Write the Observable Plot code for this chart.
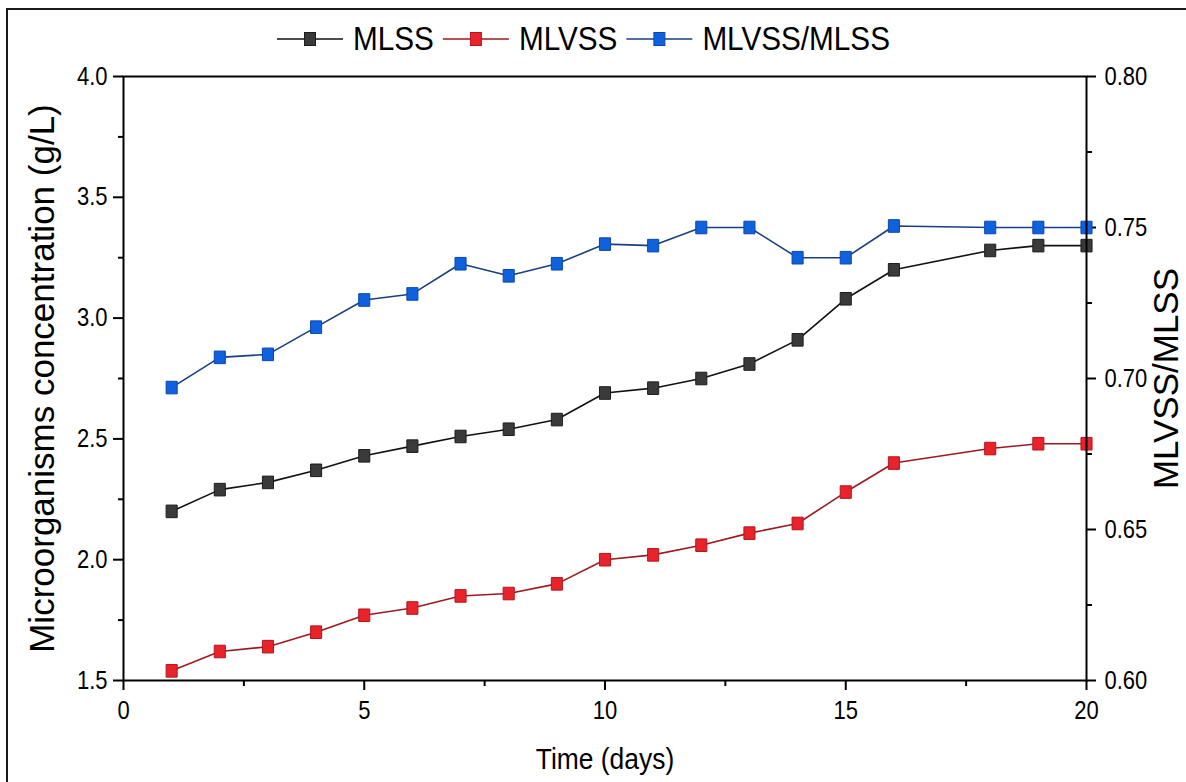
<!DOCTYPE html>
<html><head><meta charset="utf-8">
<script src="https://cdn.jsdelivr.net/npm/d3@7"></script>
<script src="https://cdn.jsdelivr.net/npm/@observablehq/plot@0.6"></script>
<style>
html,body{margin:0;padding:0;background:#fff;}
#wrap{position:relative;width:1186px;height:782px;overflow:hidden;font-family:'Liberation Sans',Arial,sans-serif;background:#fff;}
#wrap > svg{position:absolute;left:0;top:0;}
#border{position:absolute;left:6px;top:8px;width:1300px;height:900px;border-left:2px solid #1a1a1a;border-top:2px solid #1a1a1a;pointer-events:none;}
</style></head><body>
<div id="wrap"></div>
<script>
// ---- data ----
const days  = [1, 2, 3, 4, 5, 6, 7, 8, 9, 10, 11, 12, 13, 14, 15, 16, 18, 19, 20];
const mlss  = [2.20, 2.29, 2.32, 2.37, 2.43, 2.47, 2.51, 2.54, 2.58, 2.69, 2.71, 2.75, 2.81, 2.91, 3.08, 3.20, 3.28, 3.30, 3.30];
const mlvss = [1.54, 1.62, 1.64, 1.70, 1.77, 1.80, 1.85, 1.86, 1.90, 2.00, 2.02, 2.06, 2.11, 2.15, 2.28, 2.40, 2.46, 2.48, 2.48];
const ratio = [0.697, 0.707, 0.708, 0.717, 0.726, 0.728, 0.738, 0.734, 0.738, 0.7445, 0.744, 0.750, 0.750, 0.740, 0.740, 0.7505, 0.750, 0.750, 0.750];
const seriesNames = ["MLSS", "MLVSS", "MLVSS/MLSS"];
const xTicks = [0, 5, 10, 15, 20];
const xMinor = [2.5, 7.5, 12.5, 17.5];
const leftTicks = [1.5, 2.0, 2.5, 3.0, 3.5, 4.0];
const leftMinor = [1.75, 2.25, 2.75, 3.25, 3.75];
const rightTicks = [0.60, 0.65, 0.70, 0.75, 0.80];
const rightMinor = [0.625, 0.675, 0.725, 0.775];
const xTitle = "Time (days)";
const yLeftTitle = "Microorganisms concentration (g/L)";
const yRightTitle = "MLVSS/MLSS";

// ---- styles ----
const markerFill   = ["#3a3a3a", "#e8232b", "#0f61dd"];
const markerStroke = ["#1c1c1c", "#b8141b", "#0a47ad"];
const lineColor    = ["#111111", "#9c1a1f", "#1a3f80"];
const FONT = "'Liberation Sans', Arial, sans-serif";
const SQUEEZE = 0.88;

const leftDomain = [1.5, 4.0], rightDomain = [0.60, 0.80];
const toLeft = r => leftDomain[0] + (r - rightDomain[0]) * (leftDomain[1] - leftDomain[0]) / (rightDomain[1] - rightDomain[0]);
const fromLeft = v => rightDomain[0] + (v - leftDomain[0]) * (rightDomain[1] - rightDomain[0]) / (leftDomain[1] - leftDomain[0]);

const series = [mlss, mlvss, ratio.map(toLeft)];
const tables = series.map(vals => days.map((d, i) => ({day: d, v: vals[i]})));

const rectSymbol = {
  draw(context, size) {
    const h = Math.sqrt(size), w = h * 0.88;
    context.rect(-w / 2, -h / 2, w, h);
  }
};

const seriesMarks = [2, 0, 1].flatMap(s => [
  Plot.line(tables[s], {x: "day", y: "v", stroke: lineColor[s], strokeWidth: 1.6}),
  Plot.dot(tables[s], {x: "day", y: "v", symbol: rectSymbol, r: 7.1, fill: markerFill[s], stroke: markerStroke[s], strokeWidth: 1})
]);

const chart = Plot.plot({
  width: 1186, height: 782,
  marginLeft: 123, marginRight: 100, marginTop: 76, marginBottom: 102,
  x: {domain: [0, 20]},
  y: {domain: leftDomain},
  style: {fontFamily: FONT, fontSize: "25px", color: "#000", background: "transparent", overflow: "visible"},
  marks: [
    Plot.axisX(xTicks, {tickSize: 10, tickPadding: 11, tickFormat: d3.format("d"), label: null, strokeWidth: 2, fontSize: 25}),
    Plot.axisX(xMinor, {tickSize: 6, tickFormat: () => "", label: null, strokeWidth: 2}),
    Plot.axisY(leftTicks, {anchor: "left", tickSize: 10, tickPadding: 6, tickFormat: d3.format(".1f"), label: null, strokeWidth: 2, fontSize: 25}),
    Plot.axisY(leftMinor, {anchor: "left", tickSize: 5, tickFormat: () => "", label: null, strokeWidth: 2}),
    Plot.axisY(rightTicks.map(toLeft), {anchor: "right", tickSize: 9, tickPadding: 9, tickFormat: v => fromLeft(v).toFixed(2), label: null, strokeWidth: 2, fontSize: 25}),
    Plot.axisY(rightMinor.map(toLeft), {anchor: "right", tickSize: 5, tickFormat: () => "", label: null, strokeWidth: 2}),
    ...seriesMarks,
    Plot.frame({stroke: "#000", strokeWidth: 2}),
    Plot.text([xTitle], {text: d => d, frameAnchor: "bottom", lineAnchor: "top", textAnchor: "middle", dy: 67, fontSize: 30, fill: "#000"}),
    Plot.text([yLeftTitle], {text: d => d, frameAnchor: "left", rotate: -90, lineAnchor: "middle", textAnchor: "middle", dx: -81, fontSize: 35, fill: "#000"}),
    Plot.text([yRightTitle], {text: d => d, frameAnchor: "right", rotate: -90, lineAnchor: "middle", textAnchor: "middle", dx: 80, fontSize: 35, fill: "#000"})
  ]
});

const wrap = document.getElementById("wrap");
wrap.append(chart);

// ---- legend (drawn from the series arrays) ----
const leg = d3.select(wrap).append("svg").attr("width", 1186).attr("height", 76)
  .style("font-family", FONT);
let xPos = 277;
seriesNames.forEach((name, i) => {
  const g = leg.append("g").attr("transform", `translate(${xPos},39)`);
  g.append("line").attr("x1", 0).attr("x2", 66).attr("y1", 0).attr("y2", 0)
    .attr("stroke", lineColor[i]).attr("stroke-width", 1.6);
  g.append("rect").attr("x", 33 - 5.5).attr("y", -6.5).attr("width", 11).attr("height", 13)
    .attr("fill", markerFill[i]).attr("stroke", markerStroke[i]).attr("stroke-width", 1);
  const t = g.append("text").attr("x", 76).attr("y", 11).attr("fill", "#000")
    .style("font-size", "33px").text(name);
  const L = t.node().getComputedTextLength() * 0.9;
  t.attr("textLength", L).attr("lengthAdjust", "spacingAndGlyphs");
  xPos += 76 + L + 9;
});

// narrow the horizontal texts to match the reference's condensed lettering
chart.querySelectorAll("text").forEach(t => {
  const tr = (t.getAttribute("transform") || "");
  if (tr.includes("rotate")) return;
  const L = t.getComputedTextLength();
  if (L > 0) { t.setAttribute("textLength", L * SQUEEZE); t.setAttribute("lengthAdjust", "spacingAndGlyphs"); }
});

const border = document.createElement("div");
border.id = "border";
wrap.append(border);
</script>
</body></html>
